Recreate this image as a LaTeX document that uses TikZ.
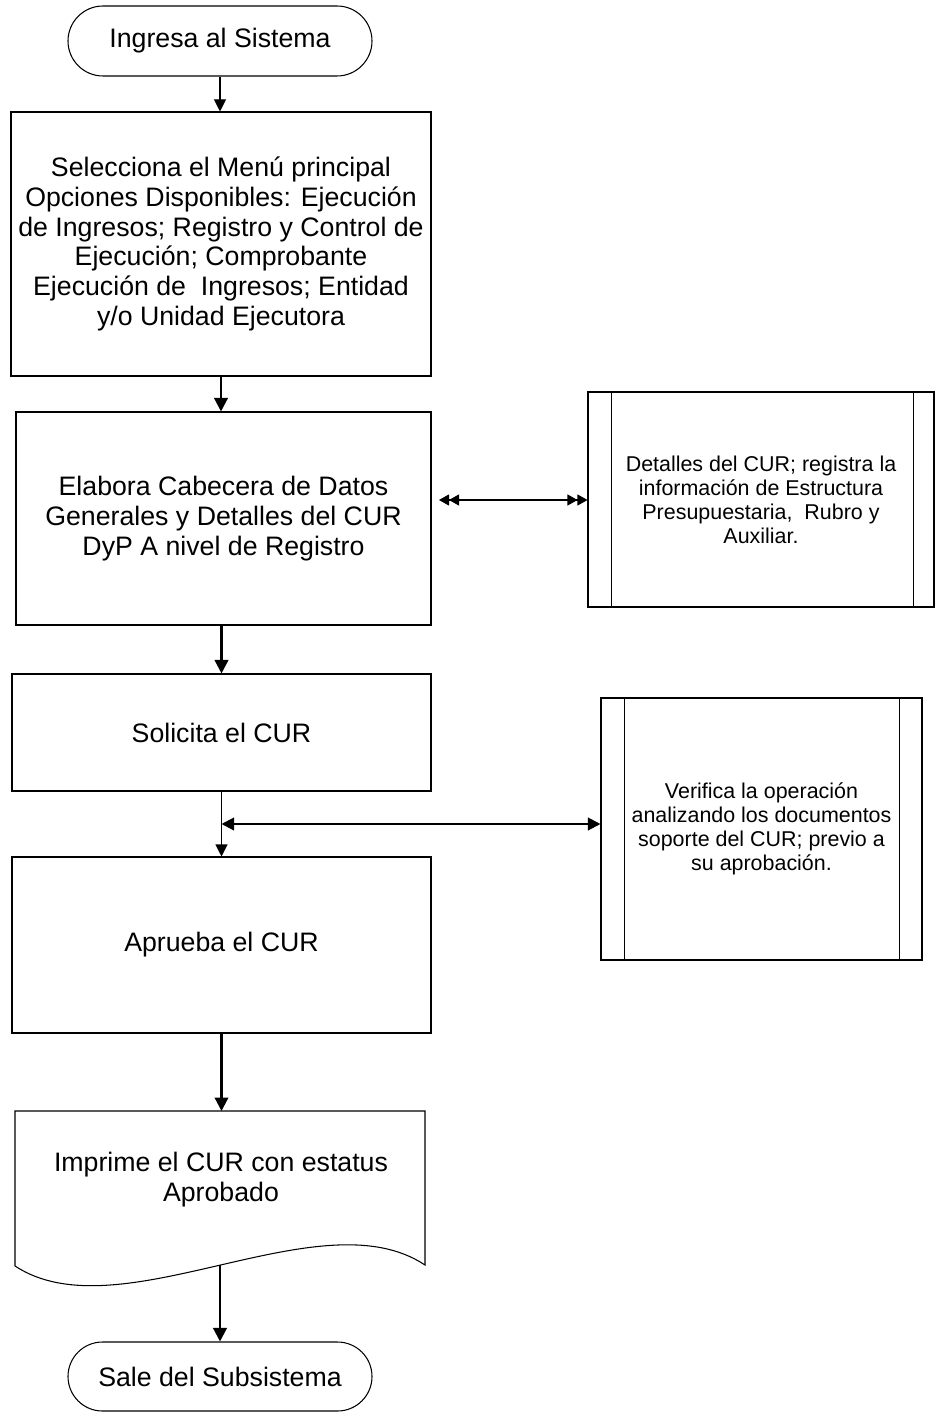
\documentclass[tikz,border=0pt]{standalone}
\usepackage{fontspec}
\setmainfont{Liberation Sans}
\usetikzlibrary{positioning,arrows.meta,shapes.misc,calc}
\tikzset{
  >={Triangle[length=2.7mm,width=2.7mm]},
  flow/.style  ={line width=1.3pt, ->},
  thinflow/.style ={line width=0.6pt, -{Triangle[length=2.4mm,width=2.4mm]}},
}

\begin{document}
\begin{tikzpicture}[line cap=butt,
  box/.style={draw, line width=0.6pt, align=center, inner sep=0pt,
    font=\fontsize{15.2}{17}\selectfont},
  term/.style={box, rounded rectangle, minimum width=6.08cm, minimum height=1.40cm},
  side/.style={box, font=\fontsize{12.2}{13.7}\selectfont},
  both/.style={line width=1.2pt, {Triangle[length=2.5mm,width=2.5mm]}-{Triangle[length=2.5mm,width=2.5mm]}},
  twin/.style={line width=0.6pt, {Triangle[length=2mm,width=2.2mm]Triangle[length=2mm,width=2.2mm]}-{Triangle[length=2mm,width=2.2mm]Triangle[length=2mm,width=2.2mm]}}
]
\useasboundingbox (0,0) rectangle (18.7,-28.24);

%--- Main column ---
\node[term] (start) at (4.40,-0.82) {Ingresa al Sistema};

\node[box, minimum width=8.40cm, minimum height=5.28cm] (menu) at (4.42,-4.88)
  {Selecciona el Menú principal\\ Opciones Disponibles: Ejecución\\ de Ingresos; Registro y Control de\\
   Ejecución; Comprobante\\ Ejecución de\ \ Ingresos; Entidad\\ y/o Unidad Ejecutora};

\node[box, minimum width=8.30cm, minimum height=4.26cm] (cabecera) at (4.47,-10.37)
  {Elabora Cabecera de Datos\\ Generales y Detalles del CUR\\ DyP A nivel de Registro};

\node[box, minimum width=8.38cm, minimum height=2.34cm] (solicita) at (4.43,-14.65)
  {Solicita el CUR};

\node[box, minimum width=8.38cm, minimum height=3.52cm] (aprueba) at (4.43,-18.90)
  {Aprueba el CUR};

% document shape (wavy bottom)
\draw[line width=0.6pt] (0.30,-25.32) -- (0.30,-22.22) -- (8.50,-22.22) -- (8.50,-25.30)
  .. controls (6.40,-23.90) and (2.40,-26.70) .. (0.30,-25.32) coordinate[pos=0.5] (docb);
\node[align=center, font=\fontsize{15.2}{17}\selectfont] (imprime) at (4.42,-23.60)
  {Imprime el CUR con estatus\\ Aprobado};
\coordinate (doctop) at (4.42,-22.22);

\node[term, minimum height=1.38cm] (fin) at (4.40,-27.53) {Sale del Subsistema};

%--- Side boxes (predefined process) ---
\node[side, minimum width=6.92cm, minimum height=4.30cm] (detalles) at (15.22,-9.99)
  {Detalles del CUR; registra la\\ información de Estructura\\ Presupuestaria,\ \ Rubro y\\ Auxiliar.};
\draw[line width=0.6pt] ($(detalles.north west)+(0.48,0)$) -- ($(detalles.south west)+(0.48,0)$);
\draw[line width=0.6pt] ($(detalles.north east)-(0.42,0)$) -- ($(detalles.south east)-(0.42,0)$);

\node[side, minimum width=6.42cm, minimum height=5.24cm] (verifica) at (15.23,-16.58)
  {Verifica la operación\\ analizando los documentos\\ soporte del CUR; previo a\\ su aprobación.};
\draw[line width=0.6pt] ($(verifica.north west)+(0.48,0)$) -- ($(verifica.south west)+(0.48,0)$);
\draw[line width=0.6pt] ($(verifica.north east)-(0.46,0)$) -- ($(verifica.south east)-(0.46,0)$);

%--- Connectors ---
\draw[thinflow] (start.south) -- (start.south |- menu.north);
\draw[flow] (menu.south) -- (menu.south |- cabecera.north);
\draw[flow] (cabecera.south -| solicita.south) -- (solicita.north);
\draw[thinflow] (solicita.south) -- (aprueba.north);
\draw[flow] (aprueba.south) -- (aprueba.south |- doctop);
\draw[flow] (docb) -- (docb |- fin.north);

% two-way links to the side boxes
\coordinate (dleft) at (8.78,-10.00);
\draw[twin] (dleft) -- (dleft -| detalles.west);
\coordinate (junc) at ($(solicita.south)!0.5!(aprueba.north)$);
\draw[both] (junc) -- (junc -| verifica.west);

\end{tikzpicture}
\end{document}
